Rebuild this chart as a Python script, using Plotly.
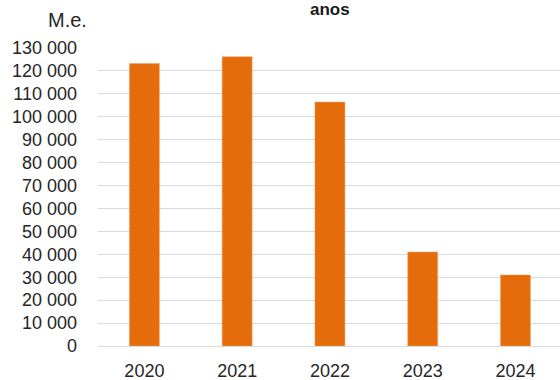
import plotly.graph_objects as go

years = ["2020", "2021", "2022", "2023", "2024"]
values = [123200, 126200, 106400, 41000, 31000]
ytick_vals = list(range(0, 130001, 10000))
ytick_text = ["0"] + [f"{v // 1000} 000" for v in ytick_vals[1:]]

fig = go.Figure(go.Bar(
    x=years, y=values,
    marker=dict(color="#E46C0A", line=dict(color="#F0A060", width=0.5)),
))

fig.update_layout(
    width=560, height=380,
    margin=dict(l=98, r=0, t=48, b=34),
    paper_bgcolor="white", plot_bgcolor="white",
    showlegend=False,
    bargap=0.677,
    font=dict(family="Liberation Sans, Arial, sans-serif", size=18, color="#262626"),
    xaxis=dict(
        type="category", range=[-0.5, 4.48],
        showgrid=False, showline=False, zeroline=False,
        ticks="", ticklabelstandoff=12,
        tickfont=dict(size=18),
    ),
    yaxis=dict(
        range=[0, 130000], tickvals=ytick_vals, ticktext=ytick_text,
        showgrid=True, gridcolor="#D9D9D9", gridwidth=1,
        zeroline=True, zerolinecolor="#D9D9D9", zerolinewidth=1,
        showline=False, ticks="", ticklabelstandoff=20,
        tickfont=dict(size=18),
    ),
    annotations=[
        dict(text="M.e.", xref="paper", yref="paper", x=-0.0664, y=1.094,
             xanchor="center", yanchor="middle", showarrow=False,
             font=dict(size=20)),
        dict(text="<b>anos</b>", xref="paper", yref="paper", x=0.502, y=1.0,
             xanchor="center", yanchor="bottom", yshift=27, showarrow=False,
             font=dict(size=17, color="#1a1a1a")),
    ],
)

fig.write_html("out.html")
